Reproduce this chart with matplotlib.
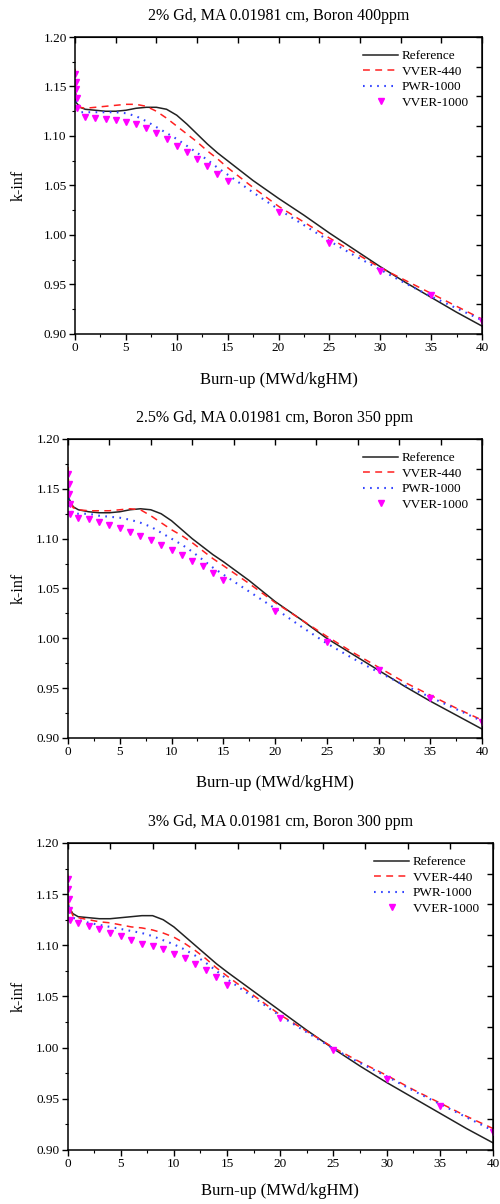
import numpy as np
import matplotlib
matplotlib.use('Agg')
import matplotlib.pyplot as plt
from matplotlib.ticker import MultipleLocator

plt.rcParams['font.family'] = ['Liberation Serif', 'DejaVu Serif']

# burn-up grid for the calculated curves and the VVER-1000 points
bu_line = [0, 0.1, 0.5, 1, 2, 3, 4, 5, 6, 7, 8, 9, 10, 11, 12, 13, 14, 15,
           17.5, 20, 22.5, 25, 27.5, 30, 32.5, 35, 37.5, 40]
bu_pts = [0, 0.05, 0.1, 0.15, 0.2, 1, 2, 3, 4, 5, 6, 7, 8, 9, 10, 11, 12, 13,
          14, 15, 20, 25, 30, 35, 40]

titles = ['2% Gd, MA 0.01981 cm, Boron 400ppm',
          '2.5% Gd, MA 0.01981 cm, Boron 350 ppm',
          '3% Gd, MA 0.01981 cm, Boron 300 ppm']

# 2% Gd
ref_1 = [1.145, 1.134, 1.129, 1.127, 1.126, 1.125, 1.125, 1.126, 1.128, 1.129, 1.129, 1.127, 1.121, 1.112,
         1.102, 1.092, 1.083, 1.075, 1.055, 1.037, 1.020, 1.002, 0.985, 0.968, 0.952, 0.937, 0.922, 0.908]
v440_1 = [1.168, 1.140, 1.129, 1.128, 1.129, 1.130, 1.131, 1.132, 1.132, 1.130, 1.125, 1.118, 1.110, 1.102,
          1.094, 1.085, 1.077, 1.068, 1.048, 1.029, 1.013, 0.997, 0.982, 0.967, 0.954, 0.941, 0.928, 0.915]
pwr_1 = [1.150, 1.130, 1.124, 1.124, 1.124, 1.124, 1.124, 1.123, 1.120, 1.115, 1.109, 1.103, 1.097, 1.090,
         1.083, 1.076, 1.068, 1.061, 1.043, 1.026, 1.010, 0.994, 0.979, 0.965, 0.951, 0.938, 0.926, 0.914]
v1000_1 = [1.163, 1.155, 1.147, 1.138, 1.128, 1.119, 1.118, 1.117, 1.116, 1.114, 1.112, 1.108, 1.103,
           1.097, 1.090, 1.084, 1.077, 1.070, 1.062, 1.055, 1.023, 0.992, 0.964, 0.939, 0.913]

# 2.5% Gd
ref_2 = [1.160, 1.140, 1.132, 1.129, 1.127, 1.126, 1.126, 1.127, 1.129, 1.130, 1.129, 1.125, 1.118, 1.109,
         1.100, 1.092, 1.084, 1.077, 1.058, 1.037, 1.019, 1.000, 0.984, 0.968, 0.952, 0.937, 0.923, 0.909]
v440_2 = [1.172, 1.140, 1.131, 1.129, 1.128, 1.128, 1.128, 1.129, 1.130, 1.129, 1.123, 1.116, 1.109, 1.103,
          1.096, 1.088, 1.080, 1.073, 1.055, 1.036, 1.019, 1.002, 0.986, 0.971, 0.956, 0.943, 0.930, 0.918]
pwr_2 = [1.155, 1.130, 1.125, 1.125, 1.125, 1.123, 1.122, 1.121, 1.119, 1.116, 1.112, 1.106, 1.100, 1.094,
         1.087, 1.079, 1.071, 1.064, 1.047, 1.030, 1.012, 0.995, 0.980, 0.966, 0.953, 0.941, 0.929, 0.917]
v1000_2 = [1.165, 1.155, 1.145, 1.135, 1.125, 1.121, 1.120, 1.117, 1.114, 1.111, 1.107, 1.103, 1.099,
           1.094, 1.089, 1.084, 1.078, 1.073, 1.066, 1.059, 1.027, 0.996, 0.968, 0.940, 0.916]

# 3% Gd
ref_3 = [1.150, 1.138, 1.131, 1.128, 1.127, 1.126, 1.126, 1.127, 1.128, 1.129, 1.129, 1.125, 1.118, 1.109,
         1.100, 1.091, 1.082, 1.074, 1.055, 1.036, 1.017, 0.999, 0.982, 0.966, 0.951, 0.936, 0.921, 0.907]
v440_3 = [1.170, 1.140, 1.129, 1.127, 1.125, 1.123, 1.122, 1.120, 1.118, 1.117, 1.115, 1.112, 1.108, 1.102,
          1.095, 1.087, 1.078, 1.070, 1.051, 1.032, 1.016, 1.000, 0.986, 0.973, 0.959, 0.946, 0.933, 0.921]
pwr_3 = [1.160, 1.135, 1.127, 1.125, 1.122, 1.120, 1.118, 1.116, 1.114, 1.112, 1.109, 1.105, 1.101, 1.096,
         1.090, 1.083, 1.075, 1.067, 1.049, 1.031, 1.015, 0.999, 0.985, 0.972, 0.958, 0.945, 0.932, 0.919]
v1000_3 = [1.165, 1.155, 1.145, 1.135, 1.125, 1.122, 1.119, 1.116, 1.112, 1.109, 1.105, 1.101, 1.099,
           1.096, 1.092, 1.088, 1.082, 1.076, 1.069, 1.061, 1.029, 0.998, 0.969, 0.943, 0.918]

panels = [(ref_1, v440_1, pwr_1, v1000_1),
          (ref_2, v440_2, pwr_2, v1000_2),
          (ref_3, v440_3, pwr_3, v1000_3)]

# axes boxes in pixels (left, top, right, bottom) of a 500x1204 figure
boxes = [(75, 37, 482, 334), (68, 439, 482, 738), (67.5, 843, 493, 1150)]
xlabel_gap = [38, 37, 33]  # px from bottom spine to top of the x label

fig = plt.figure(figsize=(5, 12.04), dpi=100)

for (ref, v440, pwr, v1000), title, (l, t, r, b), gap in zip(panels, titles, boxes, xlabel_gap):
    ax = fig.add_axes([l / 500, 1 - b / 1204, (r - l) / 500, (b - t) / 1204])
    ax.plot(bu_line, ref, '-', color='#222222', lw=1.1, label='Reference')
    ax.plot(bu_line, v440, color='#ff2020', lw=1.1, linestyle=(0, (4.5, 3.5)), label='VVER-440')
    ax.plot(bu_line, pwr, color='#3344ff', lw=1.5, linestyle=(0, (0.8, 2.6)), label='PWR-1000')
    ax.plot(bu_pts, v1000, 'v', color='#ff00ff', ms=3.8, ls='none', label='VVER-1000')

    ax.set_xlim(0, 40)
    ax.set_ylim(0.90, 1.20)
    ax.xaxis.set_major_locator(MultipleLocator(5))
    ax.xaxis.set_minor_locator(MultipleLocator(2.5))
    ax.yaxis.set_major_locator(MultipleLocator(0.05))
    ax.yaxis.set_minor_locator(MultipleLocator(0.025))
    ax.yaxis.set_major_formatter('{x:.2f}')
    ax.tick_params(which='major', direction='out', length=4, width=1, labelsize=9.5, pad=2)
    ax.tick_params(which='minor', direction='out', length=2.5, width=0.8)
    for s in ax.spines.values():
        s.set_linewidth(1.1)

    top = ax.secondary_xaxis('top')
    top.set_ticks(np.arange(0, 41, 4))
    top.tick_params(direction='in', length=4, width=1, labeltop=False)
    right = ax.secondary_yaxis('right')
    right.set_ticks(np.arange(0.90, 1.201, 0.03))
    right.tick_params(direction='in', length=4, width=1, labelright=False)

    ax.set_title(title, fontsize=11.5, pad=12)
    ax.set_xlabel('Burn-up (MWd/kgHM)', fontsize=12)
    ax.xaxis.set_label_coords(0.5, -gap / (b - t))
    ax.set_ylabel('k-inf', fontsize=11.5)
    ax.yaxis.set_label_coords((27 - l) / (r - l), 0.5)
    ax.legend(loc='upper right', frameon=False, fontsize=9.5, handlelength=2.6,
              handletextpad=0.3, labelspacing=0.25, borderaxespad=0.6)

fig.savefig('out.png', dpi=100)
